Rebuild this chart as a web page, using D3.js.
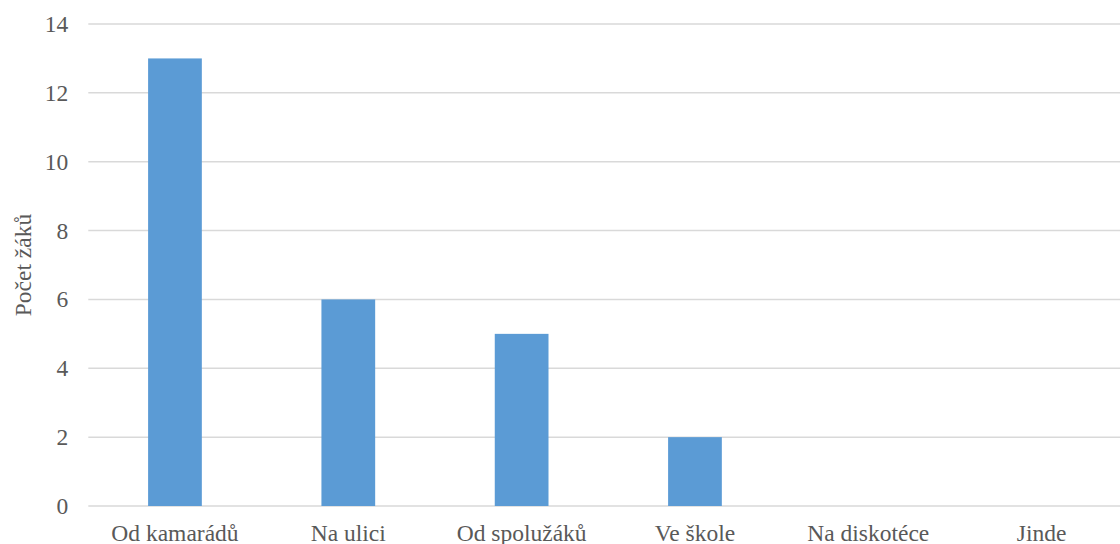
<!DOCTYPE html>
<html>
<head>
<meta charset="utf-8">
<script src="https://cdn.jsdelivr.net/npm/d3@7"></script>
<style>
  html, body { margin: 0; padding: 0; background: #fff; }
  svg { display: block; }
  svg text { font-family: "Liberation Serif", "Times New Roman", Tinos, "DejaVu Serif", serif; }
</style>
</head>
<body>
<svg id="chart" width="1120" height="544"></svg>
<script>
// Where pupils first got to know about drugs: counts per place
const categories = ["Od kamarádů", "Na ulici", "Od spolužáků", "Ve škole", "Na diskotéce", "Jinde"];
const pupilCounts = [13, 6, 5, 2, 0, 0];
const yTicks = [0, 2, 4, 6, 8, 10, 12, 14];
const yTitle = "Počet žáků";

const svg = d3.select("#chart");
const textColor = "#595959";

const plot = { left: 88.3, right: 1128.3, top: 24, bottom: 506 };

const x = d3.scaleBand()
  .domain(categories)
  .range([plot.left, plot.right])
  .paddingInner(0.69)
  .paddingOuter(0.345);

const y = d3.scaleLinear()
  .domain([0, 14])
  .range([plot.bottom, plot.top]);

// horizontal gridlines
svg.append("g")
  .selectAll("line")
  .data(yTicks)
  .join("line")
  .attr("x1", plot.left)
  .attr("x2", plot.right)
  .attr("y1", d => y(d))
  .attr("y2", d => y(d))
  .attr("stroke", "#d9d9d9")
  .attr("stroke-width", 1.5);

// bars
svg.append("g")
  .selectAll("rect")
  .data(categories.map((c, i) => ({ c, v: pupilCounts[i] })))
  .join("rect")
  .attr("x", d => x(d.c))
  .attr("width", x.bandwidth())
  .attr("y", d => y(d.v))
  .attr("height", d => y(0) - y(d.v))
  .attr("fill", "#5b9bd5");

// y axis labels
const yAxis = d3.axisLeft(y).tickValues(yTicks).tickSize(0).tickPadding(0);
const gy = svg.append("g")
  .attr("transform", `translate(${plot.left - 20},0)`)
  .call(yAxis)
  .attr("font-family", null)
  .attr("font-size", null);
gy.select(".domain").remove();
gy.selectAll("text")
  .style("font-size", "23.5px")
  .attr("fill", textColor);

// x axis labels
const xAxis = d3.axisBottom(x).tickSize(0).tickPadding(0);
const gx = svg.append("g")
  .attr("transform", `translate(0,${plot.bottom})`)
  .call(xAxis)
  .attr("font-family", null)
  .attr("font-size", null);
gx.select(".domain").remove();
gx.selectAll("text")
  .style("font-size", "23.5px")
  .attr("fill", textColor)
  .attr("dy", null)
  .attr("y", 34.5);

// y axis title
svg.append("text")
  .attr("transform", `translate(31,${(plot.top + plot.bottom) / 2}) rotate(-90)`)
  .attr("text-anchor", "middle")
  .style("font-size", "23.5px")
  .attr("fill", textColor)
  .text(yTitle);
</script>
</body>
</html>
